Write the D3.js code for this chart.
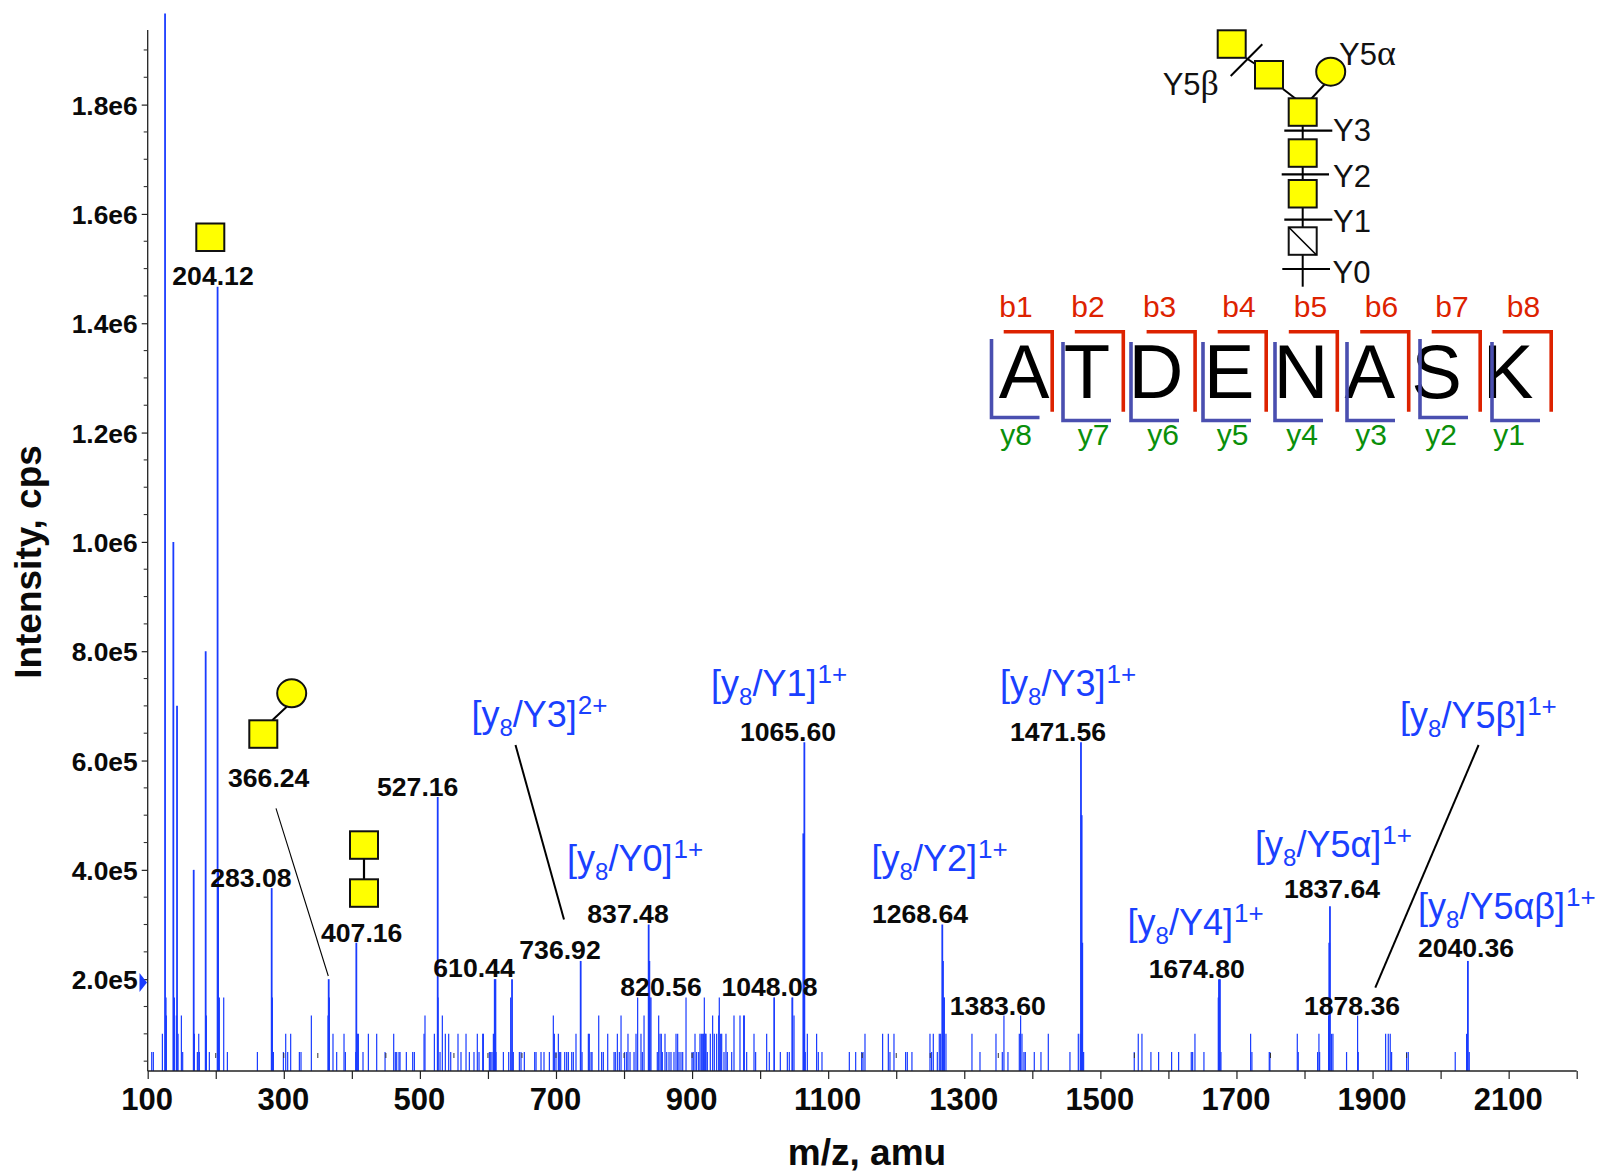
<!DOCTYPE html>
<html><head><meta charset="utf-8">
<script src="https://cdn.jsdelivr.net/npm/d3@7/dist/d3.min.js"></script>
<style>
html,body{margin:0;padding:0;background:#fff}
svg{display:block}
text{font-family:"Liberation Sans",Arial,sans-serif}
</style></head><body><div id="c"></div>
<script>
// ---------- data ----------
const countUnit = 33333.3;
const peakMz = [105.9,108.3,121.6,125.5,126.9,127.4,137.7,139.2,142.1,143.1,144.6,149.5,151.4,167.6,168.6,173,175,175.9,185.2,186.2,190.6,202.7,203.5,205.3,211.7,217.1,261.2,282.2,283.2,284.7,299.4,302.8,305.7,310.1,322.9,325.3,340.5,365,366,367,372.3,377.7,388.5,390.5,405.7,406.6,408.1,409.6,416.4,424.3,436.5,448.8,461.5,463.9,465.9,469.3,470.8,480.1,489.4,491.9,506.1,507.5,521.3,526.2,526.7,529.6,533,537.4,542.3,545.3,556,560.4,567.8,572.7,579.5,584.4,586.9,592.3,593.3,602.1,604.1,606,608,610,611,611.9,622.7,630.5,633.4,635.4,637.3,646.2,648.6,653.5,668.7,670.7,678,682.4,690.3,696.1,697.6,700,703.5,704.9,706.9,712.8,715.7,718.2,723.1,725.5,729.4,736.3,738.3,747.6,749,751.5,753,762.8,
767.1,769.6,776,785.3,787.2,790.2,793.1,795.6,800.9,803.9,805.8,808.8,814.7,817.6,820,824.9,826.9,829.4,836.2,837.2,838.2,839.6,848.9,850.9,852.9,854.8,856.3,860.2,862.7,866.1,869,873.4,876.4,878.8,880.8,883.7,886.2,891.1,899.9,901.8,904.3,906.7,909.7,911.6,913.6,915.6,917,918,919.5,920.5,922.4,926.8,930.2,932.7,936.1,939.1,940,942,943.5,946.9,949.8,951.8,958.2,961.6,970.4,975.8,976.8,980.2,991,993.4,1009.6,1013.5,1020.4,1020.9,1029.7,1040,1042.9,1046.8,1047.8,1049.8,1063.5,1065,1066.4,1069.4,1083,1085.5,1090.9,1131.1,1140.4,1149.2,1151.2,1154.1,1180,1188.4,1190.8,1196.7,1213.8,1216.3,1223.1,1249.6,1252,1254.5,1260.4,1263.3,1265.3,1267.7,1268.7,1270.2,1270.7,1273.1,1311.3,1323.1,1346.6,1355.9,1358.3,1364.2,1380.9,1382.8,1384.8,1387.7,1389.7,1402.9,1412.7,1423.5,1455.3,1467.6,1470.5,1471.5,1472.5,1473.4,1475.4,
1549.8,1555.7,1561.1,1574.3,1585.6,1604.7,1615,1633.6,1635.6,1639,1652.2,1673.3,1674.3,1675.7,1677.2,1720.8,1722.7,1748.2,1749.2,1789.4,1790.8,1819.2,1821.2,1822.2,1835.4,1836.4,1837.4,1839.8,1841.8,1861.8,1878,1879,1919.2,1923.1,1926,1928,1950,1952.5,2021.5,2038.2,2040.1,2042.1];
const peakCounts = [2,2,3,59,5,4,30,5,4,21,3,4,2,12,3,2,3,2,24,4,2,44,12,5,5,2,2,11,5,2,2,3,2,3,2,2,4,4,6,5,3,2,3,2,2,8,3,3,2,3,3,2,3,2,2,2,2,2,2,2,3,4,3,16,5,2,4,3,3,2,3,2,3,2,2,3,2,3,3,2,2,2,3,6,6,2,2,2,5,6,2,2,2,2,2,2,2,2,2,4,3,2,3,2,2,2,2,2,2,2,3,7,2,3,3,2,2,4,
2,2,3,2,2,3,2,4,2,2,3,2,2,3,5,3,2,4,9,7,5,5,2,4,3,3,2,3,2,2,2,2,3,3,2,2,2,5,2,2,3,2,2,3,3,3,3,5,3,3,2,3,4,3,3,4,5,3,3,2,3,2,2,4,4,4,4,2,3,2,3,2,5,5,2,2,2,5,5,4,14,19,2,3,3,2,2,2,2,2,2,3,3,3,2,3,2,2,2,3,2,3,2,3,3,9,7,5,5,3,3,2,3,2,4,2,3,4,3,2,2,2,2,3,2,3,3,19,15,8,2,
2,3,3,2,2,2,2,2,2,3,2,5,6,6,2,3,2,2,2,3,2,2,3,2,4,8,10,3,3,2,4,2,3,3,3,2,2,2,2,3,7,2];
const xTickValues = [100,200,300,400,500,600,700,800,900,1000,1100,1200,1300,1400,1500,1600,1700,1800,1900,2000,2100,2200];
const xTickLabels = ["100","","300","","500","","700","","900","","1100","","1300","","1500","","1700","","1900","","2100",""];
const xStubValues = [200,300,350,450,550,600,650,700,800,900,1150,1200,1250,1350,1550,1750,1950];
const yMajorValues = [200000,400000,600000,800000,1000000,1200000,1400000,1600000,1800000];
const yMajorLabels = ["2.0e5","4.0e5","6.0e5","8.0e5","1.0e6","1.2e6","1.4e6","1.6e6","1.8e6"];
const yMinorValues = [50000,100000,150000,250000,300000,350000,450000,500000,550000,650000,700000,750000,850000,900000,950000,1050000,1100000,1150000,1250000,1300000,1350000,1450000,1500000,1550000,1650000,1700000,1750000,1850000,1900000];
const peakLabels = ["204.12","283.08","366.24","527.16","407.16","610.44","736.92","837.48","820.56","1048.08","1065.60","1471.56","1268.64","1383.60","1674.80","1837.64","1878.36","2040.36"];
const peakLabelX = [213,250.8,268.7,417.7,361.7,474,560,628,661,769.5,788,1058,920,997.7,1196.7,1332,1352,1466];
const peakLabelY = [285,886.7,786.7,795.5,941.7,977,959,922.5,995.5,995.5,740.5,740.5,922.5,1014.5,977.5,898,1014.5,957];
const ionStems = ["Y3","Y1","Y3","Y0","Y2","Y4","Y5α","Y5β","Y5αβ"];
const ionCharges = ["2+","1+","1+","1+","1+","1+","1+","1+","1+"];
const ionX = [471.4,711,1000,567,871.5,1127.5,1255,1400,1418];
const ionY = [727,696,696,871,871,935,857,728,919];
const residues = ["A","T","D","E","N","A","S","K"];
const residueX = [1024,1087,1156,1229,1301,1369.8,1436.6,1508];
const bLabels = ["b1","b2","b3","b4","b5","b6","b7","b8"];
const bLabelX = [1016,1088,1159.6,1239,1310.5,1381.5,1452,1523.4];
const yLabels = ["y8","y7","y6","y5","y4","y3","y2","y1"];
const yLabelX = [1016,1093.5,1163,1232.5,1302,1371,1441,1509];

// ---------- page ----------
const W=1600,H=1172;
const svg=d3.select("#c").append("svg").attr("width",W).attr("height",H);
const x=d3.scaleLinear().domain([100,2200]).range([147.7,1576.7]);
const y=d3.scaleLinear().domain([32000,1936500]).range([1071,30]);
const BLUE="#1a3cff", INK="#0a0a0a";

// peaks
svg.append("g").selectAll("line").data(peakMz).join("line")
  .attr("x1",d=>x(d)).attr("x2",d=>x(d)).attr("y1",1071)
  .attr("y2",(d,i)=>y(peakCounts[i]*countUnit))
  .attr("stroke",BLUE)
  .attr("stroke-width",(d,i)=>peakCounts[i]>5?1.8:1.2);

// axes
const xAxis=d3.axisBottom(x).tickValues(xTickValues).tickSize(8).tickFormat((d,i)=>xTickLabels[i]);
const gx=svg.append("g").attr("transform","translate(0,1071)").call(xAxis);
gx.select(".domain").attr("stroke","#222").attr("stroke-width",1.3).attr("d","M147.7,0H1576.7");
gx.selectAll(".tick line").attr("stroke","#222").attr("stroke-width",1.2);
gx.selectAll(".tick text").attr("y",39).attr("dy",0).attr("font-size",31).attr("font-weight","bold").attr("fill",INK)
  .attr("font-family","Liberation Sans").attr("dx",-1);
svg.append("g").selectAll("line").data(xStubValues).join("line")
  .attr("x1",d=>x(d)).attr("x2",d=>x(d)).attr("y1",1053).attr("y2",1058).attr("stroke","#333").attr("stroke-width",1);

const yAxis=d3.axisLeft(y).tickValues(yMajorValues).tickSize(6).tickFormat((d,i)=>yMajorLabels[i]);
const gy=svg.append("g").attr("transform","translate(147.7,0)").call(yAxis);
gy.select(".domain").attr("stroke","#222").attr("stroke-width",1.3).attr("d","M0,30V1071");
gy.selectAll(".tick line").attr("stroke","#222").attr("stroke-width",1.2);
gy.selectAll(".tick text").attr("x",-10).attr("dy",9.5).attr("font-size",26.4).attr("font-weight","bold").attr("fill",INK)
  .attr("font-family","Liberation Sans").attr("text-anchor","end");
svg.append("g").selectAll("line").data(yMinorValues).join("line")
  .attr("x1",143.7).attr("x2",147.7).attr("y1",d=>y(d)).attr("y2",d=>y(d)).attr("stroke","#333").attr("stroke-width",1.1);
svg.append("path").attr("d","M139.5,973L147,982.5L139.5,992Z").attr("fill",BLUE);

// titles
svg.append("text").attr("x",867).attr("y",1165).attr("text-anchor","middle").attr("font-size",37).attr("font-weight","bold").attr("fill",INK).text("m/z, amu");
svg.append("text").attr("transform","translate(41,562) rotate(-90)").attr("text-anchor","middle").attr("font-size",37).attr("font-weight","bold").attr("fill",INK).text("Intensity, cps");

// peak labels
svg.append("g").selectAll("text").data(peakLabels).join("text")
  .attr("x",(d,i)=>peakLabelX[i]).attr("y",(d,i)=>peakLabelY[i])
  .attr("text-anchor","middle").attr("font-size",26.6).attr("font-weight","bold").attr("fill",INK).text(d=>d);

// ion labels
ionStems.forEach((s,i)=>{
  const t=svg.append("text").attr("x",ionX[i]).attr("y",ionY[i]).attr("font-size",36).attr("fill","#1a40ff");
  t.append("tspan").text("[y");
  t.append("tspan").attr("font-size",24).attr("dy",9).text("8");
  t.append("tspan").attr("dy",-9).text("/"+s+"]");
  t.append("tspan").attr("font-size",26).attr("dx",1).attr("dy",-13).text(ionCharges[i]);
});

// connectors
const conn=(a,b,c,d,w)=>svg.append("line").attr("x1",a).attr("y1",b).attr("x2",c).attr("y2",d).attr("stroke","#000").attr("stroke-width",w);
conn(276,808.3,328.3,976,1.1);
conn(515.5,745,564,919.5,2);
conn(1478.6,745,1375.3,987.7,2);

// glycans
const sq=(cx,cy,fill="#ffff00")=>svg.append("rect").attr("x",cx-14).attr("y",cy-14).attr("width",28).attr("height",27.5)
  .attr("fill",fill).attr("stroke","#111").attr("stroke-width",2);
const circ=(cx,cy)=>svg.append("ellipse").attr("cx",cx).attr("cy",cy).attr("rx",14.5).attr("ry",14).attr("fill","#ffff00").attr("stroke","#111").attr("stroke-width",2);
sq(210.3,237.5);
conn(272.3,720.3,286.7,706.7,2); sq(263.3,734.3); circ(291.7,693.3);
conn(364,845,364,893,2.2); sq(364,845.3); sq(364,893.3);

// top glycan
conn(1302.7,112,1302.7,286.7,2);
conn(1284.3,130.7,1332.3,130.7,2.2);
conn(1281.7,174.3,1329,174.3,2.2);
conn(1284.3,219.7,1332.3,219.7,2.2);
conn(1282.3,269,1330,269,2.2);
conn(1230.7,76,1262.3,44.3,2);
conn(1246,58,1272,75,2);
conn(1283,89,1296,99,2);
conn(1325,84,1311,99,2);
sq(1231.7,44.3); sq(1269,75); circ(1330.7,71.7); sq(1302.7,112.3); sq(1302.7,153.3); sq(1302.7,194);
sq(1302.7,241.3,"#fff");
conn(1289,227.5,1316.5,255,1.6);
const gl=(t,xx,yy)=>svg.append("text").attr("x",xx).attr("y",yy).attr("font-size",31).attr("fill","#111").text(t);
gl("Y3",1333,140.7); gl("Y2",1333,186.7); gl("Y1",1333,231.7); gl("Y0",1332.5,283.3);
const ya=gl("Y5",1339,65); ya.append("tspan").attr("font-family","Liberation Serif").attr("font-size",36).text("α");
const yb=gl("Y5",1162.7,95); yb.append("tspan").attr("font-family","Liberation Serif").attr("font-size",36).text("β");

// sequence
svg.append("g").selectAll("text").data(residues).join("text")
  .attr("x",(d,i)=>residueX[i]).attr("y",398).attr("text-anchor","middle").attr("font-size",76).attr("fill","#000").text(d=>d);
const bracketB=[1003.7,1074.8,1146.6,1217.7,1288.8,1360.2,1431.7,1502.7];
svg.append("g").selectAll("path").data(bracketB).join("path")
  .attr("d",d=>`M${d},331.7H${d+48.5}V411.7`).attr("fill","none").attr("stroke","#dd2200").attr("stroke-width",3.6);
const bracketY=[991.5,1063,1131,1203,1275,1347,1420,1492];
const bracketYDrop=[0,3,3,3,3,3,0,3];
svg.append("g").selectAll("path").data(bracketY).join("path")
  .attr("d",(d,i)=>`M${d},${339+bracketYDrop[i]}V${417.5+bracketYDrop[i]}H${d+48}`).attr("fill","none").attr("stroke","#4a4fb0").attr("stroke-width",3.6);
svg.append("g").selectAll("text").data(bLabels).join("text")
  .attr("x",(d,i)=>bLabelX[i]).attr("y",316.7).attr("text-anchor","middle").attr("font-size",30).attr("fill","#dd2200").text(d=>d);
svg.append("g").selectAll("text").data(yLabels).join("text")
  .attr("x",(d,i)=>yLabelX[i]).attr("y",445).attr("text-anchor","middle").attr("font-size",30).attr("fill","#0a8f0a").text(d=>d);
</script></body></html>
